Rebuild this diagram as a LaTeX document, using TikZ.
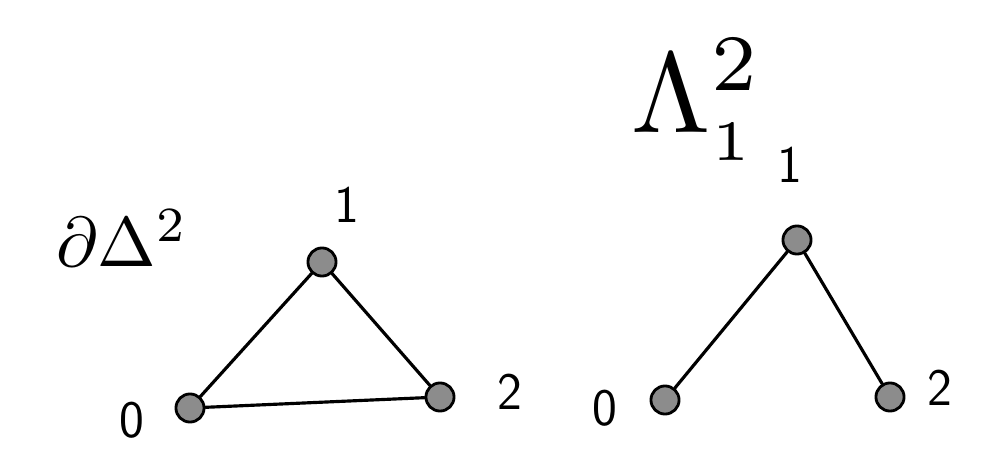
\documentclass[tikz,border=0pt]{standalone}
\usetikzlibrary{positioning}
\begin{document}
\begin{tikzpicture}[x=0.02cm, y=-0.02cm, line width=1.8pt, line cap=round]

        % Stili per vertici ed etichette
        \tikzset{vertice/.style={circle, draw, fill=black!45, minimum size=16pt, inner sep=0pt, line width=1.6pt},
                 etichetta/.style={font=\fontsize{30}{34}\selectfont\sffamily}}

        \useasboundingbox (0,0) rectangle (987,449);

        % Bordo del 2-simplesso
        \node (bordo) at (122,238) {\scalebox{4}{$\partial\Delta^{2}$}};
        \node[vertice] (a0) at (190,408) {};
        \node[vertice] (a1) at (322,262) {};
        \node[vertice] (a2) at (440,397) {};
        \node[etichetta] (e0) at (132,420) {0};
        \node[etichetta] (e1) at (347,205) {1};
        \node[etichetta] (e2) at (510,392) {2};
        \draw (a0) -- (a1) -- (a2) -- (a0);

        % Corno
        \node (corno) at (697,100) {\scalebox{6.5}{$\Lambda^{2}_{\scriptscriptstyle 1}$}};
        \node[vertice] (b0) at (665,400) {};
        \node[vertice] (b1) at (797,240) {};
        \node[vertice] (b2) at (890,397) {};
        \node[etichetta] (f0) at (605,408) {0};
        \node[etichetta] (f1) at (790,165) {1};
        \node[etichetta] (f2) at (940,388) {2};
        \draw (b0) -- (b1) -- (b2);

\end{tikzpicture}
\end{document}
